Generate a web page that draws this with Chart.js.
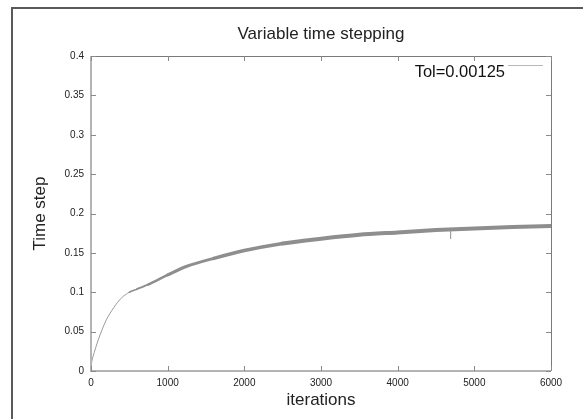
<!DOCTYPE html>
<html>
<head>
<meta charset="utf-8">
<script src="https://cdn.jsdelivr.net/npm/chart.js@4.4.0/dist/chart.umd.min.js"></script>
<style>
  html, body { margin: 0; padding: 0; background: #fff; }
  #wrap { position: relative; width: 583px; height: 419px; }
  #frame { position: absolute; left: 11px; top: 7px; right: -2px; bottom: -2px;
           border-left: 2px solid #5a5a5a; border-top: 2px solid #5a5a5a; }
</style>
</head>
<body>
<div id="wrap">
  <canvas id="grafico" width="583" height="419"></canvas>
  <div id="frame"></div>
</div>
<script>
// ---------- dados ----------
const iterations = [0, 10, 25, 100, 200, 300, 400, 500, 600, 750, 1000, 1250, 1600, 2000,
                    2500, 3000, 3500, 4000, 4500, 5000, 5500, 6000];
const timeStep = [0, 0.012, 0.018, 0.041, 0.065, 0.081, 0.093, 0.100, 0.104, 0.110, 0.122,
                  0.133, 0.143, 0.153, 0.162, 0.168, 0.173, 0.176, 0.179, 0.181, 0.183, 0.184];
// pequeno pico para baixo perto de 4690 iterações
const glitchX = [4690, 4690];
const glitchY = [0.1795, 0.1676];
const xTicks = [0, 1000, 2000, 3000, 4000, 5000, 6000];
const yTicks = [0, 0.05, 0.1, 0.15, 0.2, 0.25, 0.3, 0.35, 0.4];
const legendLabel = "Tol=0.00125";
const chartTitle = "Variable time stepping";

const points = iterations.map((x, i) => ({ x: x, y: timeStep[i] }));
const glitch = glitchX.map((x, i) => ({ x: x, y: glitchY[i] }));

const FONT = "'Liberation Sans', Arial, sans-serif";

// moldura + ticks para dentro (estilo gnuplot) + legenda + título centrado na área do gráfico
const gnuplotFrame = {
  id: "gnuplotFrame",
  afterDatasetsDraw(chart) {
    const { ctx, chartArea: a, scales } = chart;
    const len = 5;
    ctx.save();
    // bordas esquerda/inferior claras
    ctx.strokeStyle = "#b4b4b4";
    ctx.lineWidth = 2;
    ctx.beginPath();
    ctx.moveTo(a.left, a.top);
    ctx.lineTo(a.left, a.bottom);
    ctx.lineTo(a.right, a.bottom);
    ctx.stroke();
    // bordas superior/direita mais escuras
    ctx.strokeStyle = "#7a7a7a";
    ctx.lineWidth = 1;
    ctx.beginPath();
    ctx.moveTo(a.left, a.top + 0.5);
    ctx.lineTo(a.right + 0.5, a.top + 0.5);
    ctx.lineTo(a.right + 0.5, a.bottom);
    ctx.stroke();
    // ticks
    ctx.strokeStyle = "#8a8a8a";
    ctx.beginPath();
    xTicks.forEach(v => {
      const px = Math.round(scales.x.getPixelForValue(v)) + 0.5;
      ctx.moveTo(px, a.bottom); ctx.lineTo(px, a.bottom - len);
      ctx.moveTo(px, a.top); ctx.lineTo(px, a.top + len);
    });
    yTicks.forEach(v => {
      const py = Math.round(scales.y.getPixelForValue(v)) + 0.5;
      ctx.moveTo(a.left, py); ctx.lineTo(a.left + len, py);
      ctx.moveTo(a.right, py); ctx.lineTo(a.right - len, py);
    });
    ctx.stroke();
    // título
    ctx.font = "17px " + FONT;
    ctx.fillStyle = "#222";
    ctx.textAlign = "center";
    ctx.textBaseline = "middle";
    ctx.fillText(chartTitle, (a.left + a.right) / 2, a.top - 22);
    // legenda
    ctx.font = "16.5px " + FONT;
    ctx.fillStyle = "#111";
    ctx.textAlign = "right";
    ctx.textBaseline = "alphabetic";
    ctx.fillText(legendLabel, a.right - 46, a.top + 21);
    ctx.strokeStyle = "#b8b8b8";
    ctx.beginPath();
    ctx.moveTo(a.right - 43, a.top + 9.5);
    ctx.lineTo(a.right - 8, a.top + 9.5);
    ctx.stroke();
    ctx.restore();
  }
};

const ctx1 = document.getElementById("grafico").getContext("2d");
new Chart(ctx1, {
  type: "line",
  data: {
    datasets: [{
      label: legendLabel,
      data: points,
      borderColor: "#8e8e8e",
      borderWidth: 4,
      borderCapStyle: "round",
      borderJoinStyle: "round",
      pointRadius: 0,
      tension: 0.3,
      segment: {
        borderWidth: c => {
          const x1 = c.p1.parsed.x;
          if (x1 <= 500) return 1;
          if (x1 <= 600) return 1.5;
          if (x1 <= 750) return 2;
          if (x1 <= 1000) return 2.5;
          if (x1 <= 1600) return 3;
          if (x1 <= 2500) return 3.5;
          return 4;
        },
        borderColor: c => c.p1.parsed.x <= 500 ? "#9a9a9a" : undefined
      }
    }, {
      label: "glitch",
      data: glitch,
      borderColor: "#a0a0a0",
      borderWidth: 1,
      pointRadius: 0
    }]
  },
  options: {
    responsive: false,
    animation: false,
    layout: { padding: { left: 20, right: 32, top: 56, bottom: 7 } },
    plugins: {
      legend: { display: false },
      tooltip: { enabled: false },
      title: { display: false }
    },
    scales: {
      x: {
        type: "linear",
        min: 0,
        max: 6000,
        afterFit: s => { s.height = 41; },
        afterBuildTicks: s => { s.ticks = xTicks.map(v => ({ value: v })); },
        grid: { display: false, drawTicks: false },
        border: { display: false },
        ticks: {
          padding: 6,
          color: "#222",
          maxRotation: 0,
          font: { family: FONT, size: 10 },
          callback: v => String(v)
        },
        title: {
          display: true,
          text: "iterations",
          color: "#222",
          font: { family: FONT, size: 17 },
          padding: { top: 1, bottom: 1 }
        }
      },
      y: {
        min: 0,
        max: 0.4,
        afterFit: s => { s.width = 71; },
        afterBuildTicks: s => { s.ticks = yTicks.map(v => ({ value: v })); },
        grid: { display: false, drawTicks: false },
        border: { display: false },
        ticks: {
          padding: 7,
          color: "#222",
          font: { family: FONT, size: 10 },
          callback: v => String(+v.toFixed(2))
        },
        title: {
          display: true,
          text: "Time step",
          color: "#222",
          font: { family: FONT, size: 17 },
          padding: { top: 10, bottom: 0 }
        }
      }
    }
  },
  plugins: [gnuplotFrame]
});
</script>
</body>
</html>
